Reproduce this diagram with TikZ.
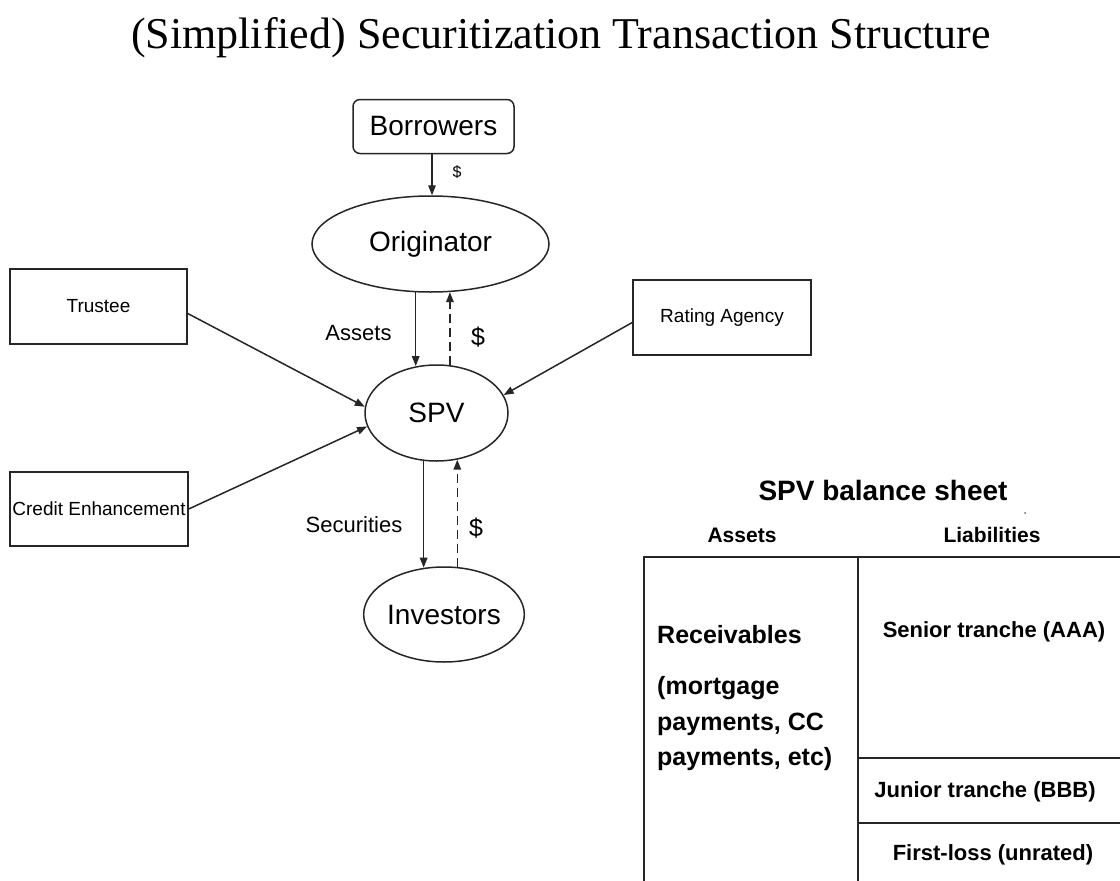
\documentclass[tikz,border=0pt]{standalone}
\usepackage{fontspec}
\setmainfont{Liberation Serif}
\newfontfamily\sansf{Liberation Sans}
\usetikzlibrary{shapes.geometric,arrows.meta,calc}
\begin{document}
\begin{tikzpicture}[x=1pt,y=-1pt,
  every node/.style={text=black},
  ln/.style={line width=1.5pt,draw=black!85},
  arr/.style={ln,-{Triangle[length=10pt,width=7.5pt]}},
  darr/.style={arr,dash pattern=on 9pt off 5pt},
  ell/.style={ellipse,ln,inner sep=0pt,font=\sansf\fontsize{28}{32}\selectfont},
  sbox/.style={rectangle,ln,inner sep=0pt,minimum width=178pt,minimum height=75pt,font=\sansf\fontsize{19}{22}\selectfont},
  lab/.style={inner sep=0pt,font=\sansf\fontsize{22}{26}\selectfont},
  blab/.style={inner sep=0pt,font=\sansf\bfseries\fontsize{21}{25}\selectfont},
  bigb/.style={inner sep=0pt,font=\sansf\bfseries\fontsize{25}{30}\selectfont}]
\useasboundingbox (0,0) rectangle (1120,881);
\fill[white] (0,0) rectangle (1120,881);

\node[inner sep=0pt,font=\fontsize{44}{50}\selectfont] (title) at (561,38) {(Simplified) Securitization Transaction Structure};

\node[rectangle,rounded corners=7pt,ln,inner sep=0pt,minimum width=161pt,minimum height=54pt,font=\sansf\fontsize{28}{32}\selectfont] (bor) at (433.5,126.5) {Borrowers};
\node[ell,minimum width=237pt,minimum height=96pt] (orig) at (430.5,244) {Originator};
\node[ell,minimum width=143pt,minimum height=96pt] (spv) at (436.5,413) {SPV};
\node[ell,minimum width=142pt,minimum height=95pt] (inv) at (444,614.5) {Investors};

\node[sbox,minimum width=177pt] (trustee) at (98.5,306.5) {Trustee};
\node[sbox,minimum height=74pt] (credit) at (99,509) {Credit Enhancement};
\node[sbox] (rating) at (722,317.5) {Rating Agency};

% connectors
\draw[arr] (bor.south -| orig.north) ++(1.5,0) coordinate (b1) -- (b1 |- orig.north);
\node[inner sep=0pt,font=\sansf\fontsize{16}{20}\selectfont] (d0) at (457,172) {\$};

\draw[arr] (orig.253.6) -- (orig.253.6 |- spv.113.5);
\draw[darr] (orig.292.9 |- spv.73.4) -- (orig.292.9);
\node[lab] (lassets) at (358.5,333) {Assets};
\node[lab,font=\sansf\fontsize{25}{28}\selectfont] (d1) at (478,337) {\$};

\draw[arr] (spv.255.8) -- (spv.255.8 |- inv.113.9);
\draw[darr] (spv.294.6 |- inv.74.3) -- (spv.294.6);
\node[lab] (lsec) at (354,525) {Securities};
\node[lab,font=\sansf\fontsize{25}{28}\selectfont] (d2) at (476,528) {\$};

\draw[arr] ($(trustee.east)+(0,7)$) -- (spv.175);
\draw[arr] (credit.east) -- (spv.191);
\draw[arr] ($(rating.west)+(0,5)$) -- (spv.15);

% balance sheet
\node[inner sep=0pt,font=\sansf\bfseries\fontsize{28}{32}\selectfont] (bstitle) at (883,490) {SPV balance sheet};
\fill[black!60] (1025,513) circle (1pt);
\node[blab] (hassets) at (742,535) {Assets};
\node[blab] (hliab) at (992,535) {Liabilities};

\coordinate (tl) at (644,557);
\coordinate (tm) at (858,557);
\coordinate (tr) at (1120,557);
\coordinate (bl) at (644,881);
\coordinate (bm) at (858,881);
\coordinate (h1l) at (858,758);
\coordinate (h1r) at (1120,758);
\coordinate (h2l) at (858,823);
\coordinate (h2r) at (1120,823);
\draw[ln] (bl) -- (tl) -- (tr);
\draw[ln] (tm) -- (bm);
\draw[ln] (h1l) -- (h1r);
\draw[ln] (h2l) -- (h2r);

\node[bigb,anchor=base west] (rec) at (657,643) {Receivables};
\node[bigb,anchor=base west] (rec1) at (657,694) {(mortgage};
\node[bigb,anchor=base west] (rec2) at (657,730) {payments, CC};
\node[bigb,anchor=base west] (rec3) at (657,765) {payments, etc)};

\node[blab,font=\sansf\bfseries\fontsize{22}{26}\selectfont] (senior) at (994,632) {Senior tranche (AAA)};
\node[blab,font=\sansf\bfseries\fontsize{22}{26}\selectfont] (junior) at (985,792) {Junior tranche (BBB)};
\node[blab,font=\sansf\bfseries\fontsize{22}{26}\selectfont] (first) at (993,855) {First-loss (unrated)};
\end{tikzpicture}
\end{document}
